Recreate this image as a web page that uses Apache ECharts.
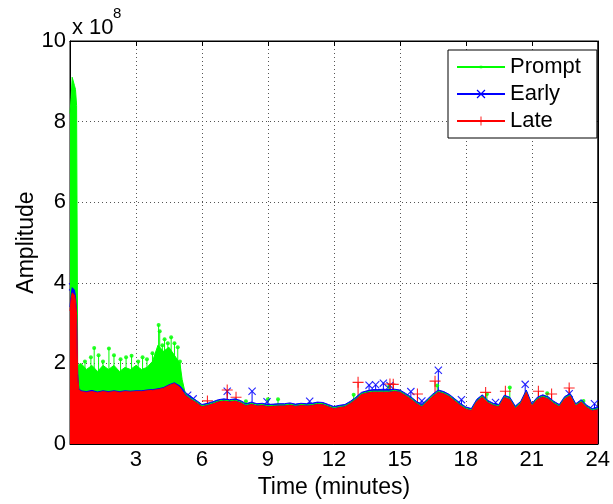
<!DOCTYPE html>
<html>
<head>
<meta charset="utf-8">
<script src="https://cdn.jsdelivr.net/npm/echarts@6/dist/echarts.min.js"></script>
<style>
html, body { margin: 0; padding: 0; background: #fff; }
#chart { width: 613px; height: 504px; }
</style>
</head>
<body>
<div id="chart"></div>
<script>
// amplitudes in units of 1e8, time in minutes
var timeMin = [0, 0.05, 0.1, 0.2, 0.25, 0.3, 0.35, 0.4, 0.5, 0.75, 1, 1.25, 1.5, 1.75, 2, 2.25, 2.5, 2.75, 3, 3.25, 3.5, 3.75,
	4, 4.25, 4.5, 4.75, 5, 5.1, 5.25, 5.5, 5.75, 6, 6.25, 6.5, 6.75, 7, 7.25, 7.5, 7.75, 8, 8.25, 8.5, 8.75, 9, 9.25, 9.5, 9.75,
	10, 10.25, 10.5, 10.75, 11, 11.25, 11.5, 11.75, 12, 12.25, 12.5, 12.75, 13, 13.25, 13.5, 13.75, 14, 14.25, 14.5, 14.75,
	15, 15.25, 15.5, 15.75, 16, 16.25, 16.5, 16.75, 17, 17.25, 17.5, 17.75, 18, 18.25, 18.5, 18.75, 19, 19.25, 19.5, 19.75,
	20, 20.25, 20.5, 20.75, 21, 21.25, 21.5, 21.75, 22, 22.25, 22.5, 22.75, 23, 23.25, 23.5, 23.75, 24];

var lateEnv = [3.30, 3.60, 3.75, 3.70, 3.55, 3.20, 1.70, 1.35, 1.30, 1.28, 1.30, 1.27, 1.30, 1.28, 1.30, 1.28, 1.30, 1.29, 1.30, 1.30, 1.32, 1.33,
	1.35, 1.38, 1.45, 1.50, 1.40, 1.32, 1.20, 1.10, 1.02, 0.92, 0.95, 0.99, 1.04, 1.06, 1.04, 1.06, 1.02, 0.94, 0.98, 0.94, 0.95, 0.92, 0.93, 0.94, 0.94,
	0.96, 0.93, 0.95, 0.94, 0.95, 0.98, 0.97, 0.92, 0.87, 0.90, 0.92, 1.00, 1.10, 1.22, 1.26, 1.28, 1.28, 1.28, 1.28, 1.30,
	1.28, 1.20, 1.11, 1.00, 0.92, 1.05, 1.18, 1.28, 1.24, 1.17, 1.06, 0.95, 0.86, 0.82, 1.05, 1.16, 1.02, 0.95, 0.92, 1.15,
	1.10, 0.88, 1.00, 1.28, 0.94, 1.10, 1.16, 1.11, 1.00, 0.92, 1.12, 1.19, 0.94, 1.04, 0.90, 0.82, 0.85];

var earlyEnv = [3.40, 3.70, 3.88, 3.82, 3.68, 3.30, 1.75, 1.38, 1.32, 1.30, 1.33, 1.29, 1.32, 1.30, 1.32, 1.30, 1.32, 1.31, 1.32, 1.32, 1.34, 1.35,
	1.37, 1.40, 1.47, 1.52, 1.44, 1.38, 1.28, 1.17, 1.08, 0.98, 1.01, 1.05, 1.10, 1.12, 1.10, 1.12, 1.08, 1.00, 1.04, 1.00, 1.01, 0.98, 0.99, 1.00, 1.00,
	1.02, 0.99, 1.01, 1.00, 1.01, 1.04, 1.03, 0.98, 0.93, 0.96, 0.98, 1.06, 1.16, 1.28, 1.32, 1.35, 1.35, 1.36, 1.35, 1.36,
	1.34, 1.26, 1.17, 1.06, 0.98, 1.11, 1.24, 1.34, 1.30, 1.23, 1.12, 1.01, 0.92, 0.88, 1.11, 1.22, 1.08, 1.01, 0.98, 1.21,
	1.16, 0.94, 1.06, 1.34, 1.00, 1.16, 1.22, 1.17, 1.06, 0.98, 1.18, 1.25, 1.00, 1.10, 0.96, 0.88, 0.92];

var promptEnv = [8.20, 8.60, 9.10, 8.90, 8.80, 8.40, 1.95, 1.95, 2.00, 1.85, 1.95, 1.80, 1.95, 1.85, 1.95, 1.80, 1.90, 1.85, 1.95, 1.85, 1.90, 2.05,
	2.45, 2.30, 2.40, 2.20, 2.00, 1.60, 1.24, 1.13, 1.05, 0.95, 0.98, 1.02, 1.07, 1.09, 1.07, 1.09, 1.05, 0.97, 1.01, 0.97, 0.98, 0.95, 0.96, 0.97, 0.97,
	0.99, 0.96, 0.98, 0.97, 0.98, 1.01, 1.00, 0.95, 0.90, 0.93, 0.95, 1.03, 1.13, 1.25, 1.29, 1.31, 1.31, 1.31, 1.31, 1.33,
	1.31, 1.23, 1.14, 1.03, 0.95, 1.08, 1.21, 1.31, 1.27, 1.20, 1.09, 0.98, 0.89, 0.85, 1.08, 1.19, 1.05, 0.98, 0.95, 1.18,
	1.13, 0.91, 1.03, 1.31, 0.97, 1.13, 1.19, 1.14, 1.03, 0.95, 1.15, 1.22, 0.97, 1.07, 0.93, 0.85, 0.88];

// isolated spikes [time, amplitude]
var promptPeaks = [[0.68, 2.05], [0.95, 2.15], [1.1, 2.38], [1.3, 2.2], [1.5, 2.05], [1.77, 2.37], [2.0, 2.2], [2.3, 2.1], [2.55, 2.15],
	[2.8, 2.19], [3.1, 2.05], [3.3, 2.15], [3.5, 2.1], [3.75, 2.25], [4.03, 2.95], [4.08, 2.8], [4.2, 2.45], [4.3, 2.6], [4.45, 2.5],
	[4.6, 2.65], [4.75, 2.5], [4.9, 2.4], [5.0, 2.05], [8.0, 1.06], [9.0, 1.11], [9.46, 1.11], [12.9, 1.22], [14.5, 1.42],
	[16.7, 1.45], [18.96, 1.24], [20.0, 1.4], [21.7, 1.26], [23.35, 1.07]];
var earlyPeaks = [[0.12, 3.9], [1.0, 1.41], [3.08, 1.31], [5.35, 1.21], [5.6, 1.12], [7.15, 1.31], [8.28, 1.31], [8.96, 1.05],
	[10.9, 1.06], [13.6, 1.46], [13.9, 1.47], [14.25, 1.51], [14.55, 1.45], [15.5, 1.3], [16.0, 1.07], [16.75, 1.83],
	[17.8, 1.1], [19.35, 1.03], [20.7, 1.48], [22.7, 1.25], [23.85, 1.0]];
var latePeaks = [[1.36, 1.43], [1.7, 1.4], [2.1, 1.43], [2.6, 1.42], [3.1, 1.45], [3.5, 1.4], [4.07, 1.5], [4.5, 1.55], [4.75, 1.6],
	[6.25, 1.07], [7.15, 1.34], [7.55, 1.16], [13.1, 1.53], [14.55, 1.49], [14.7, 1.48], [15.8, 1.24], [16.6, 1.56],
	[18.9, 1.28], [19.8, 1.31], [21.3, 1.31], [21.9, 1.24], [22.7, 1.39]];

var xTicks = [0, 24, 3];
var yTicks = [0, 10, 2];

var FONT = '"Liberation Sans", Arial, Helvetica, sans-serif';
var GREEN = '#00ff00', BLUE = '#0000ff', RED = '#ff0000';
var DOT = 'path://M0,0h0.05v0.05h-0.05Z M3.6,3.6h2.8v2.8h-2.8Z M9.95,9.95h0.05v0.05h-0.05Z';
var CROSS = 'path://M0,1L1,0L10,9L9,10Z M9,0L10,1L1,10L0,9Z';
var PLUS = 'path://M4.5,0H5.5V10H4.5Z M0,4.5H10V5.5H0Z';

function pairs(xs, ys) {
	return xs.map(function(x, i) { return [x, ys[i]]; });
}

function stem(color) {
	return function(params, api) {
		var top = api.coord([api.value(0), api.value(1)]);
		var base = api.coord([api.value(0), 0]);
		return {
			type: 'line',
			shape: { x1: top[0], y1: top[1], x2: base[0], y2: base[1] },
			style: { stroke: color, lineWidth: 1 }
		};
	};
}

function envelope(name, color, symbol, values) {
	return {
		name: name,
		type: 'line',
		data: pairs(timeMin, values),
		symbol: symbol,
		showSymbol: false,
		lineStyle: { color: color, width: 1 },
		itemStyle: { color: color },
		areaStyle: { color: color, opacity: 1 },
		silent: true
	};
}

function spikes(color, data) {
	return {
		type: 'custom',
		data: data,
		renderItem: stem(color),
		encode: { x: 0, y: 1 },
		silent: true
	};
}

function marks(color, symbol, size, data) {
	return {
		type: 'scatter',
		data: data,
		symbol: symbol,
		symbolSize: size,
		itemStyle: { color: color, opacity: 0.85 },
		silent: true
	};
}

var chart = echarts.init(document.getElementById('chart'));
var axisCommon = {
	type: 'value',
	axisLine: { show: true, onZero: false, lineStyle: { color: '#000', width: 1 } },
	axisTick: { show: true, inside: true, length: 5, lineStyle: { color: '#000' } }
};

chart.setOption({
	animation: false,
	backgroundColor: '#fff',
	grid: { left: 70, right: 15, top: 41, bottom: 59, show: true, borderColor: '#000', borderWidth: 1 },
	xAxis: [
		Object.assign({}, axisCommon, {
			min: xTicks[0], max: xTicks[1], interval: xTicks[2],
			name: 'Time (minutes)', nameLocation: 'middle', nameGap: 32,
			nameTextStyle: { fontSize: 23, color: '#000', fontFamily: FONT },
			axisLabel: { fontSize: 22, color: '#000', fontFamily: FONT, margin: 5, showMinLabel: false },
			splitLine: { show: true, lineStyle: { color: '#555', type: [1, 3], width: 1 } }
		}),
		Object.assign({}, axisCommon, {
			position: 'top', min: xTicks[0], max: xTicks[1], interval: xTicks[2],
			axisLabel: { show: false }, splitLine: { show: false }
		})
	],
	yAxis: [
		Object.assign({}, axisCommon, {
			min: yTicks[0], max: yTicks[1], interval: yTicks[2],
			name: 'Amplitude', nameLocation: 'middle', nameGap: 32, nameMoveOverlap: false,
			nameTextStyle: { fontSize: 23, color: '#000', fontFamily: FONT },
			axisLabel: { fontSize: 22, color: '#000', fontFamily: FONT, margin: 4 },
			splitLine: { show: true, lineStyle: { color: '#555', type: [1, 3], width: 1 } }
		}),
		Object.assign({}, axisCommon, {
			position: 'right', min: yTicks[0], max: yTicks[1], interval: yTicks[2],
			axisLabel: { show: false }, splitLine: { show: false }
		})
	],
	legend: {
		left: 448, top: 50, orient: 'vertical',
		data: ['Prompt', 'Early', 'Late'],
		itemWidth: 48, itemHeight: 11, itemGap: 5,
		padding: [6, 16, 6, 8],
		backgroundColor: '#fff', borderColor: '#000', borderWidth: 1, borderRadius: 0,
		textStyle: { fontSize: 22, color: '#000', fontFamily: FONT },
		selectedMode: false
	},
	graphic: [
		{ type: 'text', left: 72, top: 17, style: { text: 'x 10', font: '22px ' + FONT, fill: '#000' } },
		{ type: 'text', left: 113, top: 6, style: { text: '8', font: '15px ' + FONT, fill: '#000' } }
	],
	series: [
		envelope('Prompt', GREEN, DOT, promptEnv),
		spikes(GREEN, promptPeaks),
		marks(GREEN, 'circle', 4, promptPeaks),
		envelope('Early', BLUE, CROSS, earlyEnv),
		spikes(BLUE, earlyPeaks),
		marks(BLUE, CROSS, 8, earlyPeaks),
		envelope('Late', RED, PLUS, lateEnv),
		spikes(RED, latePeaks),
		marks(RED, PLUS, 11, latePeaks)
	]
});
</script>
</body>
</html>
